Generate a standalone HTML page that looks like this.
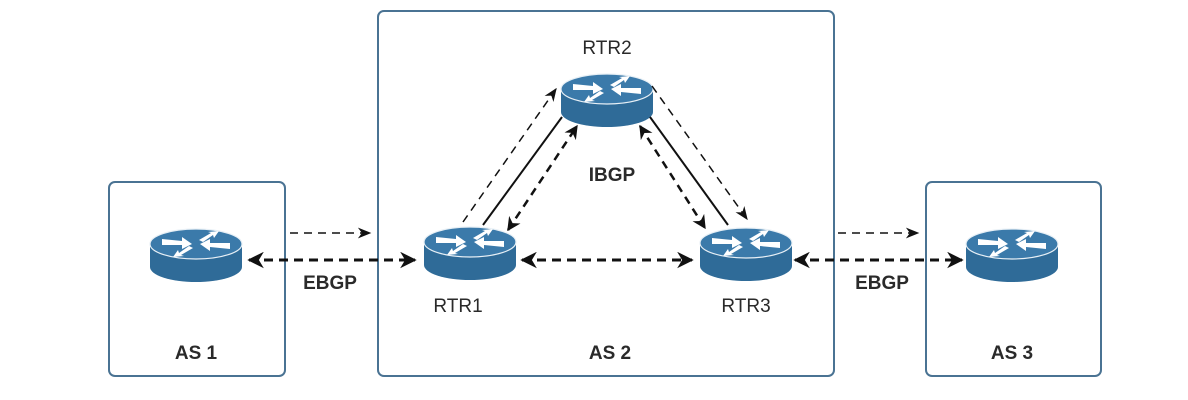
<!DOCTYPE html>
<html><head><meta charset="utf-8"><style>
html,body{margin:0;padding:0;background:#fff;}
svg{display:block;}
text{font-family:"Liberation Sans",Arial,sans-serif;fill:#2a2a2a;}
</style></head><body>
<svg width="1188" height="400" viewBox="0 0 1188 400">
<defs>
<marker id="ah" viewBox="0 0 10 10" refX="9" refY="5" markerWidth="5.5" markerHeight="5.5" orient="auto-start-reverse"><path d="M0,0 L10,5 L0,10 L3,5 z" fill="#111"/></marker>
<marker id="ahs" viewBox="0 0 10 10" refX="9" refY="5" markerWidth="9" markerHeight="9" orient="auto-start-reverse"><path d="M0,1 L10,5 L0,9 L3,5 z" fill="#111"/></marker>
<g id="rtr">
<path d="M-46,0 L-46,23 A46,15 0 0 0 46,23 L46,0 Z" fill="#2f6b98"/>
<ellipse cx="0" cy="0" rx="46" ry="15" fill="#3b7aaa" stroke="#e8f0f6" stroke-width="1.2"/>
<g fill="#fff">
<path d="M-34,-5 L-14,-3 L-14,-7 L-4,0 L-14,5 L-14,1 L-34,1 Z"/>
<path d="M34,5 L14,3 L14,7 L4,0 L14,-5 L14,-1 L34,-1 Z"/>
<path d="M3,-4 L15,-11 L12,-12 L23,-13 L18,-6 L17,-9 L7,-2 Z"/>
<path d="M-3,4 L-15,11 L-12,12 L-23,13 L-18,6 L-17,9 L-7,2 Z"/>
</g>
</g>
</defs>
<g fill="none" stroke="#4a7393" stroke-width="2">
<rect x="109" y="182" width="176" height="194" rx="6"/>
<rect x="378" y="11" width="456" height="365" rx="6"/>
<rect x="926" y="182" width="175" height="194" rx="6"/>
</g>
<use href="#rtr" x="196" y="244"/>
<use href="#rtr" x="470" y="242"/>
<use href="#rtr" x="607" y="89"/>
<use href="#rtr" x="746" y="243"/>
<use href="#rtr" x="1012" y="244"/>
<g stroke="#111" fill="none">
<line x1="290" y1="233" x2="370" y2="233" stroke-width="1.5" stroke-dasharray="8,6" marker-end="url(#ahs)"/>
<line x1="838" y1="233" x2="918" y2="233" stroke-width="1.5" stroke-dasharray="8,6" marker-end="url(#ahs)"/>
<line x1="249" y1="260" x2="415" y2="260" stroke-width="3" stroke-dasharray="9,6" marker-start="url(#ah)" marker-end="url(#ah)"/>
<line x1="522" y1="260" x2="692" y2="260" stroke-width="3" stroke-dasharray="9,6" marker-start="url(#ah)" marker-end="url(#ah)"/>
<line x1="795" y1="260" x2="962" y2="260" stroke-width="3" stroke-dasharray="9,6" marker-start="url(#ah)" marker-end="url(#ah)"/>
<line x1="463" y1="222" x2="556" y2="89" stroke-width="1.5" stroke-dasharray="8,6" marker-end="url(#ahs)"/>
<line x1="483" y1="225" x2="562" y2="117" stroke-width="2"/>
<line x1="508" y1="230" x2="577" y2="126" stroke-width="2.5" stroke-dasharray="8,6" marker-start="url(#ah)" marker-end="url(#ah)"/>
<line x1="640" y1="126" x2="705" y2="228" stroke-width="2.5" stroke-dasharray="8,6" marker-start="url(#ah)" marker-end="url(#ah)"/>
<line x1="650" y1="117" x2="728" y2="225" stroke-width="2"/>
<line x1="652" y1="86" x2="747" y2="219" stroke-width="1.5" stroke-dasharray="8,6" marker-end="url(#ahs)"/>
</g>
<g font-size="19" text-anchor="middle">
<text x="607" y="54">RTR2</text>
<text x="458" y="312">RTR1</text>
<text x="746" y="312">RTR3</text>
<text x="612" y="181" font-weight="bold">IBGP</text>
<text x="330" y="289" font-weight="bold">EBGP</text>
<text x="882" y="289" font-weight="bold">EBGP</text>
<text x="196" y="359" font-weight="bold">AS 1</text>
<text x="610" y="359" font-weight="bold">AS 2</text>
<text x="1012" y="359" font-weight="bold">AS 3</text>
</g>
</svg>
</body></html>
